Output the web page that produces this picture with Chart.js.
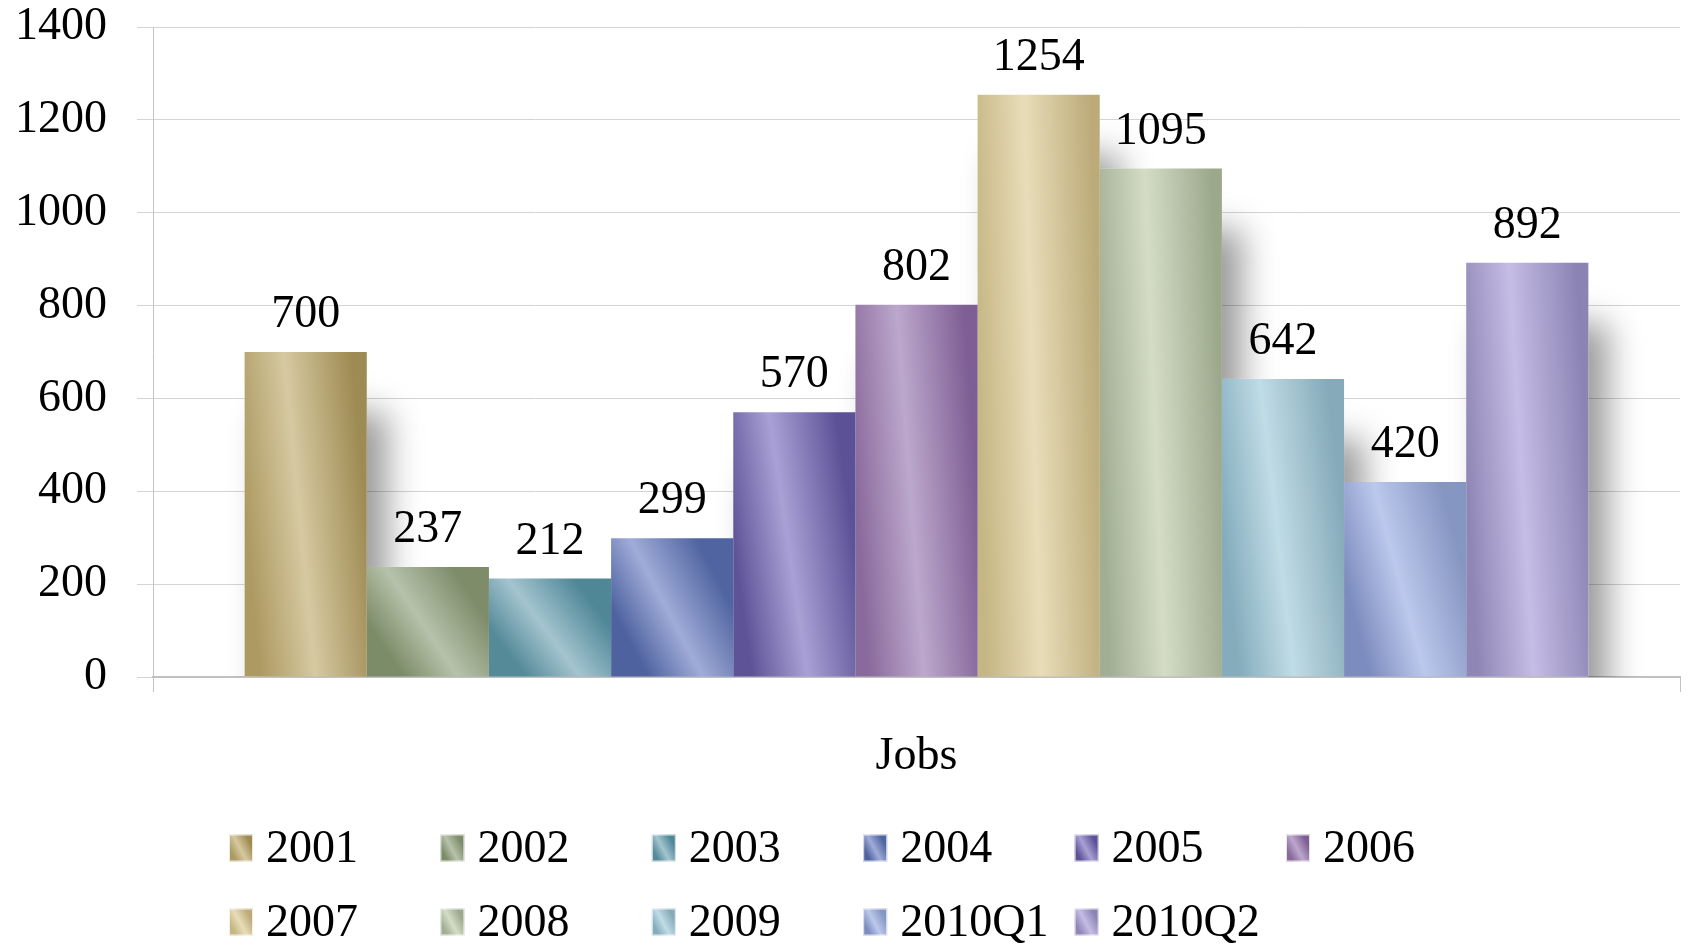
<!DOCTYPE html>
<html><head><meta charset="utf-8">
<script src="https://cdn.jsdelivr.net/npm/chart.js@4.4.1/dist/chart.umd.min.js"></script>
<style>html,body{margin:0;padding:0;background:#fff;overflow:hidden}canvas{display:block}</style>
</head><body>
<canvas id="c" width="1691" height="952"></canvas>
<script>
// ---- data ----
const categories = ['Jobs'];
const seriesNames = ['2001','2002','2003','2004','2005','2006','2007','2008','2009','2010Q1','2010Q2'];
const jobs = [700, 237, 212, 299, 570, 802, 1254, 1095, 642, 420, 892];
const yTicks = [0, 200, 400, 600, 800, 1000, 1200, 1400];
// ---- colours (gradient stops per series) ----
const darkLeft  = ['#ad9a62','#7c8c68','#558a99','#4e62a0','#5f5398','#8a6a9c','#c6b684','#a2ae94','#84acbc','#7c8cbe','#8f86b6'];
const lightMid  = ['#d6c9a1','#b6c2aa','#a4c4cf','#a0acd8','#a9a1d5','#bca8cc','#e8ddb9','#d4dcc6','#c0dce6','#bcc8ec','#c5bde5'];
const darkRight = ['#9e8b53','#7e8c6a','#4f8797','#4f64a0','#5c5096','#7e5e94','#bcab79','#9ca88c','#86aab9','#8696c2','#8b83b3'];

const FONT = "'Liberation Serif', 'Times New Roman', serif";
const FS = 46;

function makeGradient(ctx, x0, x1, yTop, yBot, i) {
  const w = x1 - x0, h = Math.max(1, yBot - yTop);
  const cx = (x0 + x1) / 2, cy = (yTop + yBot) / 2;
  const s = 0.6 * w * Math.min(1, 140 / h);
  const n = Math.hypot(h, s);
  const ux = h / n, uy = -s / n;
  const L = (w * h) / (2 * n);
  const g = ctx.createLinearGradient(cx - ux * L, cy - uy * L, cx + ux * L, cy + uy * L);
  g.addColorStop(0, darkLeft[i]);
  g.addColorStop(0.45, lightMid[i]);
  g.addColorStop(1, darkRight[i]);
  return g;
}

const gradientPlugin = {
  id: 'barGradients',
  afterDatasetsUpdate(chart) {
    const ctx = chart.ctx;
    chart.data.datasets.forEach((ds, i) => {
      chart.getDatasetMeta(i).data.forEach(el => {
        const p = el.getProps(['x', 'y', 'base', 'width'], true);
        const g = makeGradient(ctx, p.x - p.width / 2, p.x + p.width / 2, Math.min(p.y, p.base), Math.max(p.y, p.base), i);
        el.options = Object.assign({}, el.options, { backgroundColor: g });
      });
    });
  }
};

const shadowPlugin = {
  id: 'barShadows',
  beforeDatasetsDraw(chart) {
    const ctx = chart.ctx, a = chart.chartArea;
    ctx.save();
    ctx.beginPath();
    ctx.rect(a.left, a.top, a.right - a.left + 200, a.bottom - a.top);
    ctx.clip();
    ctx.shadowColor = 'rgba(0,0,0,0.40)';
    ctx.shadowBlur = 32;
    ctx.shadowOffsetX = 20;
    ctx.shadowOffsetY = 60;
    ctx.fillStyle = '#ffffff';
    chart.data.datasets.forEach((ds, i) => {
      chart.getDatasetMeta(i).data.forEach(el => {
        const p = el.getProps(['x', 'y', 'base', 'width'], true);
        ctx.fillRect(p.x - p.width / 2, p.y, p.width, p.base - p.y);
      });
    });
    ctx.restore();
  }
};

const labelPlugin = {
  id: 'valueLabels',
  afterDatasetsDraw(chart) {
    const ctx = chart.ctx;
    ctx.save();
    ctx.font = FS + 'px ' + FONT;
    ctx.fillStyle = '#000';
    ctx.textAlign = 'center';
    ctx.textBaseline = 'alphabetic';
    chart.data.datasets.forEach((ds, i) => {
      chart.getDatasetMeta(i).data.forEach((el, j) => {
        const p = el.getProps(['x', 'y'], true);
        ctx.fillText(String(ds.data[j]), p.x, p.y - 25);
      });
    });
    ctx.restore();
  }
};

const legendPlugin = {
  id: 'gridLegend',
  afterDraw(chart) {
    const ctx = chart.ctx;
    const startX = 229, colW = 211.4, rowY = [848, 922], perRow = 6;
    const bw = 24, bh = 27;
    ctx.save();
    ctx.font = FS + 'px ' + FONT;
    ctx.textAlign = 'left';
    ctx.textBaseline = 'middle';
    seriesNames.forEach((name, i) => {
      const row = Math.floor(i / perRow), col = i % perRow;
      const x = startX + col * colW, y = rowY[row];
      ctx.fillStyle = makeGradient(ctx, x, x + bw, y - bh / 2, y + bh / 2, i);
      ctx.fillRect(x, y - bh / 2, bw, bh);
      ctx.strokeStyle = 'rgba(255,255,255,0.8)';
      ctx.lineWidth = 1;
      ctx.strokeRect(x + 0.5, y - bh / 2 + 0.5, bw - 1, bh - 1);
      ctx.fillStyle = '#000';
      ctx.fillText(name, x + 37, y + 2);
    });
    ctx.restore();
  }
};

const datasets = seriesNames.map((name, i) => ({
  label: name,
  data: [jobs[i]],
  backgroundColor: lightMid[i],
  borderWidth: 0
}));

Chart.defaults.font.family = FONT;
Chart.defaults.font.size = FS;
Chart.defaults.color = '#000';

new Chart(document.getElementById('c'), {
  type: 'bar',
  data: { labels: categories, datasets },
  options: {
    responsive: false,
    animation: false,
    events: [],
    layout: { padding: { top: 27, right: 11, bottom: 165, left: 0 } },
    datasets: { bar: { categoryPercentage: 0.88, barPercentage: 1.0 } },
    plugins: { legend: { display: false }, tooltip: { enabled: false } },
    scales: {
      x: {
        offset: true,
        grid: { display: true, drawOnChartArea: false, tickLength: 15, color: '#c4c4c4', offset: true },
        border: { display: true, color: '#c0c0c0', width: 2 },
        ticks: { padding: 37, font: { size: FS, family: FONT }, color: '#000', maxRotation: 0 },
        afterFit(scale) { scale.height = 110; scale.paddingLeft = 0; scale.paddingRight = 0; }
      },
      y: {
        min: 0, max: 1400,
        afterBuildTicks(scale) { scale.ticks = yTicks.map(v => ({ value: v })); },
        grid: { color: '#d4d4d4', lineWidth: 1, tickLength: 16 },
        border: { display: true, color: '#c4c4c4', width: 1 },
        ticks: { padding: 30, font: { size: FS, family: FONT }, color: '#000', callback: v => String(v) },
        afterFit(scale) { scale.width = 153; scale.paddingTop = 0; scale.paddingBottom = 0; }
      }
    }
  },
  plugins: [gradientPlugin, shadowPlugin, labelPlugin, legendPlugin]
});
</script>
</body></html>
